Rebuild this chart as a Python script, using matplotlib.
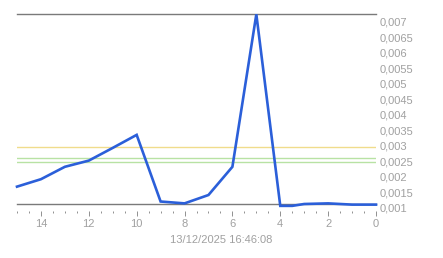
import matplotlib
matplotlib.use("Agg")
import matplotlib.pyplot as plt
import matplotlib.transforms as mtransforms
from matplotlib.ticker import MultipleLocator

# minutes ago (x) and measured value (y)
minutes = [15, 14, 13, 12, 11, 10, 9, 8, 7, 6, 5, 4, 3.5, 3, 2, 1, 0]
values = [0.00172, 0.00196, 0.00236, 0.00256, 0.00297, 0.00339, 0.00124,
          0.00118, 0.00145, 0.00236, 0.00728, 0.00110, 0.00110, 0.00116,
          0.00118, 0.00114, 0.00114]

# horizontal reference levels
ref_levels = [0.003, 0.00264, 0.0025]
ref_colors = ["#f0dc8c", "#b8e2a4", "#b8e2a4"]

ytick_values = [0.001, 0.0015, 0.002, 0.0025, 0.003, 0.0035, 0.004,
                0.0045, 0.005, 0.0055, 0.006, 0.0065, 0.007]
y_range = (0.00116, 0.00728)
timestamp = "13/12/2025 16:46:08"

W, H = 443, 258
fig = plt.figure(figsize=(W / 100, H / 100), dpi=100)
left, right, top, bottom = 17, 376, 14.3, 204
ax = fig.add_axes([left / W, 1 - bottom / H, (right - left) / W, (bottom - top) / H])

grey = "#a0a0a0"
axis_grey = "#7a7a7a"
plt.rcParams["font.family"] = ["Liberation Sans", "DejaVu Sans"]

for lvl, col in zip(ref_levels, ref_colors):
    ax.axhline(lvl, color=col, lw=1.0, zorder=1)

ax.plot(minutes, values, color="#2b5fd9", lw=1.9, zorder=3, clip_on=False,
        solid_joinstyle="miter")

ax.set_xlim(15, 0)
ax.set_ylim(*y_range)

for side in ("left", "right"):
    ax.spines[side].set_visible(False)
ax.spines["top"].set_color(axis_grey)
ax.spines["top"].set_linewidth(1.0)
ax.spines["bottom"].set_visible(False)
ax.spines["bottom"].set_position(("outward", 5))
ax.plot([0, 1], [0, 0], transform=ax.transAxes, color=axis_grey, lw=1.0,
        clip_on=False, zorder=2)

ax.xaxis.set_major_locator(MultipleLocator(2))
ax.xaxis.set_minor_locator(MultipleLocator(0.5))
ax.tick_params(axis="x", which="major", length=3.5, width=0.7, color="#909090",
               labelcolor=grey, labelsize=8, pad=2)
ax.tick_params(axis="x", which="minor", length=1.2, width=0.7, color="#909090")
ax.set_yticks([])

# right-hand value labels (some fall outside the view range)
trans = mtransforms.blended_transform_factory(ax.transAxes, ax.transData)
for v in ytick_values:
    ax.text(1.01, v, f"{v:g}".replace(".", ","), transform=trans,
            ha="left", va="center", fontsize=8, color=grey, clip_on=False)

fig.text(0.5, 1 - 240 / H, timestamp, ha="center", va="center",
         fontsize=8, color=grey)

fig.savefig("out.png", dpi=100)
